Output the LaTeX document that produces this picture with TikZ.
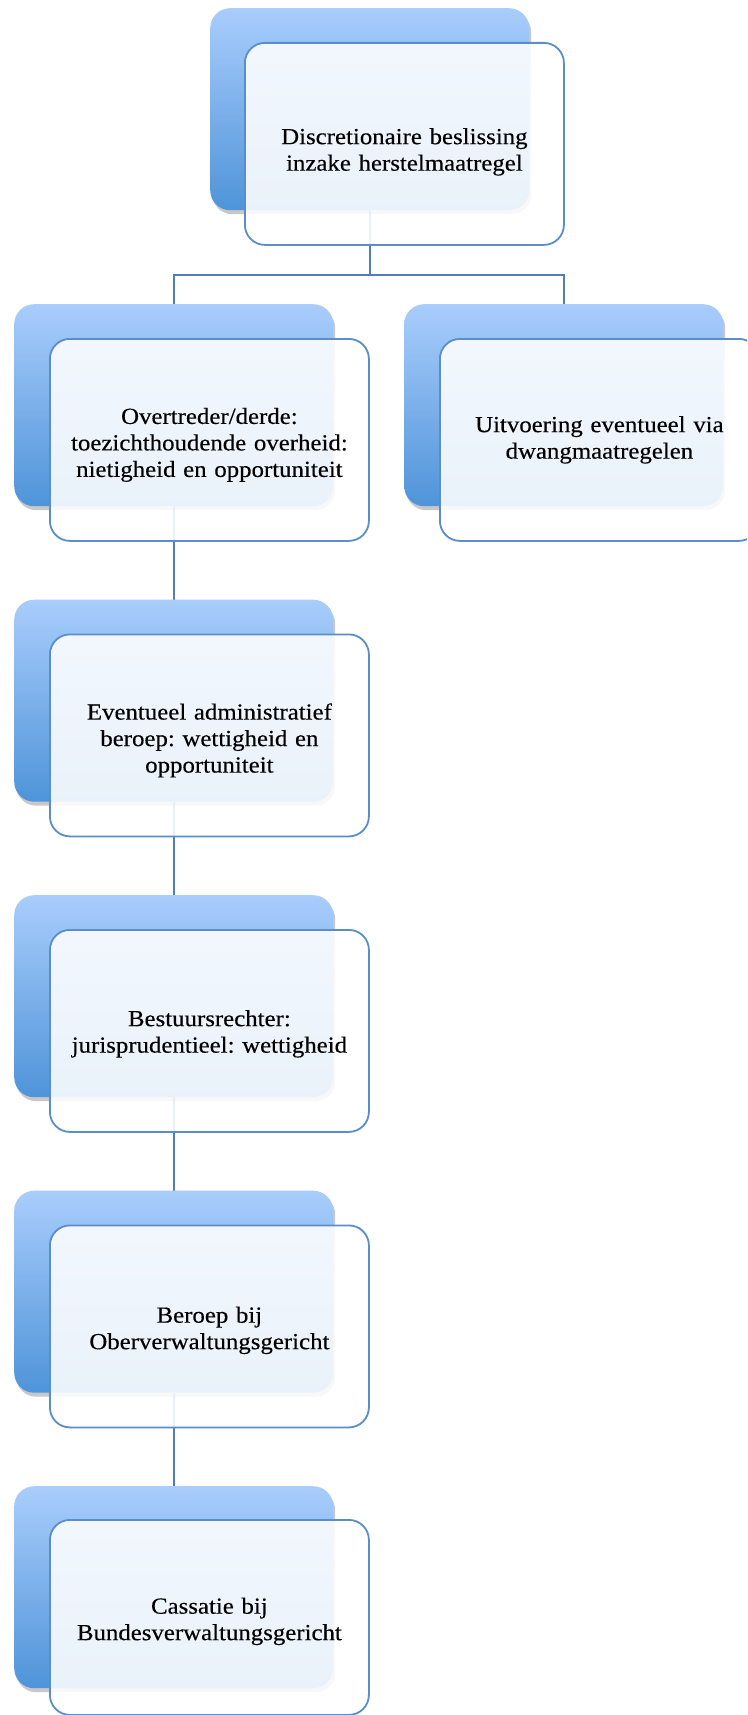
\documentclass[tikz,border=0pt]{standalone}
\usepackage{fontspec}
\setmainfont{Liberation Serif}[FakeStretch=1.08,FakeBold=0.3]
\usetikzlibrary{shadows}
\definecolor{gtop}{HTML}{A9CDFC}
\definecolor{gbot}{HTML}{4F94D9}
\definecolor{edgeblue}{HTML}{5B8DC8}
\definecolor{connblue}{HTML}{4F7EBB}
\pgfdeclarelayer{paper}
\pgfdeclarelayer{links}
\pgfsetlayers{paper,links,main}
\frenchspacing
\begin{document}
\begin{tikzpicture}[x=1pt,y=-1pt,
  backbox/.style={draw=none, rounded corners=20pt, minimum width=319pt, minimum height=202pt,
    anchor=north west, inner sep=0pt, top color=gtop, bottom color=gbot,
    drop shadow={shadow xshift=2pt, shadow yshift=-4pt, opacity=0.3, fill=black!70}},
  frontbox/.style={draw=edgeblue, line width=1.8pt, rounded corners=20pt, minimum width=319pt,
    minimum height=202pt, anchor=north west, fill=white, fill opacity=0.88, inner sep=0pt},
  txt/.style={align=center, font=\fontsize{23}{26.5}\selectfont, text width=310pt, inner sep=0pt},
  link/.style={draw=connblue, line width=2pt}]
\begin{pgfonlayer}{paper}
\fill[white] (0,0) rectangle (747,1715);
\end{pgfonlayer}
\clip (0,0) rectangle (747,1715);
% back boxes
\node[backbox] (b0) at (210,8) {};
\node[backbox] (b1) at (14,304) {};
\node[backbox] (b2) at (14,599.5) {};
\node[backbox] (b3) at (14,895) {};
\node[backbox] (b4) at (14,1190.5) {};
\node[backbox] (b5) at (14,1486) {};
\node[backbox] (b6) at (404,304) {};
% front boxes
\node[frontbox] (f0) at (244,42) {};
\node[frontbox] (f1) at (49,338) {};
\node[frontbox] (f2) at (49,633.5) {};
\node[frontbox] (f3) at (49,929) {};
\node[frontbox] (f4) at (49,1224.5) {};
\node[frontbox, minimum height=195pt] (f5) at (49,1519) {};
\node[frontbox] (f6) at (439,338) {};
% texts
\node[txt] (t0) at ([yshift=-8pt]f0.center) {Discretionaire beslissing\\inzake herstelmaatregel};
\node[txt] (t1) at ([yshift=-5pt]f1.center) {Overtreder/derde:\\toezichthoudende overheid:\\nietigheid en opportuniteit};
\node[txt] (t2) at ([yshift=-5pt]f2.center) {Eventueel administratief\\beroep: wettigheid en\\opportuniteit};
\node[txt] (t3) at ([yshift=-3pt]f3.center) {Bestuursrechter:\\jurisprudentieel: wettigheid};
\node[txt] (t4) at ([yshift=-4pt]f4.center) {Beroep bij\\Oberverwaltungsgericht};
\node[txt] (t5) at ([yshift=-4pt]f5.center) {Cassatie bij\\Bundesverwaltungsgericht};
\node[txt] (t6) at (f6.center) {Uitvoering eventueel via\\dwangmaatregelen};
% connectors
\begin{pgfonlayer}{links}
\coordinate (j) at (0,275);
\draw[link] (b0.south) -- (b0.south |- j) -| (b1.north);
\draw[link] (b0.south |- j) -| (b6.north);
\draw[link] (b1.south) -- (b2.north);
\draw[link] (b2.south) -- (b3.north);
\draw[link] (b3.south) -- (b4.north);
\draw[link] (b4.south) -- (b5.north);
\end{pgfonlayer}
\end{tikzpicture}
\end{document}
